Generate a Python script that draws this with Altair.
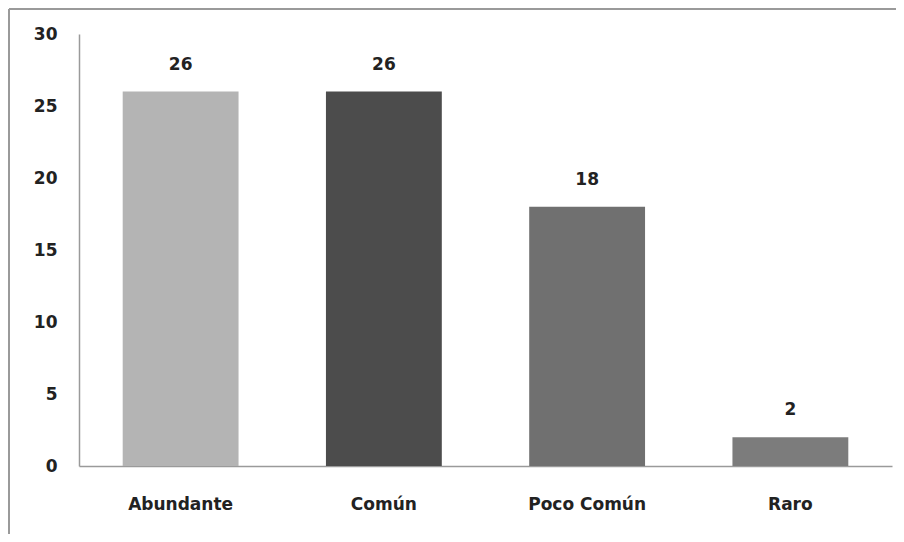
import altair as alt
import pandas as pd

categories = ["Abundante", "Común", "Poco Común", "Raro"]
values = [26, 26, 18, 2]
colors = ["#b4b4b4", "#4c4c4c", "#707070", "#7c7c7c"]

df = pd.DataFrame({"cat": categories, "val": values})

W, H = 813, 432
FONT = "DejaVu Sans"
FS = 17

x = alt.X("cat:N", sort=categories, title=None,
          scale=alt.Scale(paddingInner=0.43, paddingOuter=0.215),
          axis=alt.Axis(labelAngle=0, labelFont=FONT, labelFontSize=FS, labelFontWeight="bold",
                        labelColor="#222", labelPadding=30, ticks=False,
                        domainColor="#9a9a9a", domainWidth=1.5, grid=False))
y = alt.Y("val:Q", title=None,
          scale=alt.Scale(domain=[0, 30], nice=False),
          axis=alt.Axis(values=[0, 5, 10, 15, 20, 25, 30], labelFont=FONT, labelFontSize=FS,
                        labelFontWeight="bold", labelColor="#222", labelPadding=22, ticks=False,
                        domainColor="#9a9a9a", domainWidth=1.5, grid=False))

bars = alt.Chart(df).mark_bar().encode(
    x=x, y=y,
    color=alt.Color("cat:N", scale=alt.Scale(domain=categories, range=colors), legend=None),
)

text = alt.Chart(df).mark_text(baseline="bottom", dy=-18, font=FONT, fontSize=FS,
                               fontWeight="bold", color="#222").encode(
    x=alt.X("cat:N", sort=categories), y="val:Q", text="val:Q")

border_top = alt.Chart(df).mark_rule(stroke="#9a9a9a", strokeWidth=1.5).encode(
    x=alt.value(-70), x2=alt.value(W + 60), y=alt.value(-25))
border_left = alt.Chart(df).mark_rule(stroke="#9a9a9a", strokeWidth=1.5).encode(
    x=alt.value(-70), y=alt.value(-25), y2=alt.value(H + 120))

chart = alt.layer(border_top, border_left, bars, text).properties(
    width=W, height=H,
    autosize=alt.AutoSizeParams(type="none"),
    padding={"left": 71, "top": 26, "right": 4, "bottom": 68},
).configure(background="white").configure_view(stroke="transparent", strokeWidth=0)

chart.save("out.html", embed_options={"renderer": "svg", "actions": False})
